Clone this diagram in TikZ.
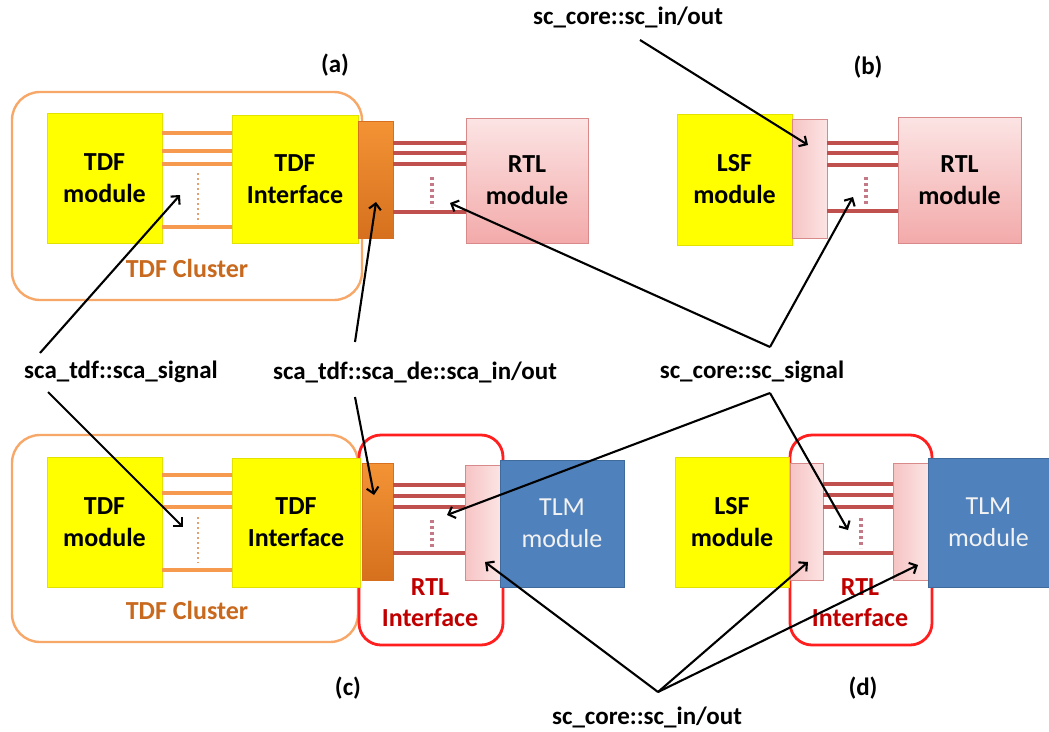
\documentclass[tikz,border=0pt]{standalone}
\usepackage{fontspec}
\setmainfont{Carlito}
\usetikzlibrary{arrows.meta}
\definecolor{tyellow}{HTML}{FFFF00}
\definecolor{tyedge}{HTML}{E2E200}
\definecolor{clorange}{HTML}{F7A868}
\definecolor{lnorange}{HTML}{F59A4E}
\definecolor{dtorange}{HTML}{E0A070}
\definecolor{porttop}{HTML}{F39335}
\definecolor{portbot}{HTML}{D6701E}
\definecolor{pinktop}{HTML}{FCE4E4}
\definecolor{pinkbot}{HTML}{F3AAAA}
\definecolor{pinkedge}{HTML}{D88A8A}
\definecolor{redline}{HTML}{C0504D}
\definecolor{reddot}{HTML}{C47A86}
\definecolor{tlmblue}{HTML}{4F81BD}
\definecolor{tlmedge}{HTML}{3F6A9C}
\definecolor{ifred}{HTML}{FF1F1F}
\definecolor{iftext}{HTML}{C00000}
\definecolor{cltext}{HTML}{C8691E}
\begin{document}
\begin{tikzpicture}[x=1pt,y=-1pt,
  cluster/.style={draw=clorange, line width=2.4pt, rounded corners=28pt, inner sep=0pt},
  rtlif/.style={draw=ifred, line width=2.8pt, rounded corners=22pt, inner sep=0pt},
  ybox/.style={draw=tyedge, fill=tyellow, line width=0.6pt, inner sep=0pt, align=center,
    font=\bfseries\fontsize{26}{32}\selectfont},
  pbox/.style={draw=pinkedge, top color=pinktop, bottom color=pinkbot, line width=0.8pt, inner sep=0pt, align=center,
    font=\bfseries\fontsize{26}{32}\selectfont},
  oport/.style={draw=portbot, top color=porttop, bottom color=portbot, line width=0.6pt, inner sep=0pt},
  pport/.style={draw=pinkedge, left color=pinkbot!70, right color=pinktop, line width=0.8pt, inner sep=0pt},
  tlm/.style={draw=tlmedge, fill=tlmblue, line width=0.8pt, inner sep=0pt, align=center,
    text=white!90!gray, font=\fontsize{26}{32}\selectfont},
  oline/.style={draw=lnorange, line width=3.4pt},
  odots/.style={draw=dtorange, line width=2.8pt, dash pattern=on 2pt off 3pt},
  rline/.style={draw=redline, line width=3.4pt},
  rdots/.style={draw=reddot, line width=4pt, dash pattern=on 3pt off 3pt},
  lbl/.style={font=\bfseries\fontsize{25}{28}\selectfont, inner sep=1pt},
  panel/.style={font=\bfseries\fontsize{25}{28}\selectfont, inner sep=1pt},
  cltxt/.style={font=\bfseries\fontsize{26}{30}\selectfont, text=cltext},
  iftxt/.style={font=\bfseries\fontsize{26}{31}\selectfont, text=iftext, align=center},
  arr/.style={draw=black, line width=2.1pt, -{Straight Barb[length=6pt,width=12pt]}}
]
\useasboundingbox (0,0) rectangle (1049,731);
\fill[white] (0,0) rectangle (1049,731);

% ---------------- panel (a)
\node[cluster, minimum width=350pt, minimum height=208pt] (clA) at (187,196) {};
\node[ybox, minimum width=115pt, minimum height=130pt] (tdfmA) at (104.5,178) {TDF\\module};
\node[ybox, minimum width=126pt, minimum height=128pt] (tdfiA) at (295,179) {TDF\\Interface};
\node[oport, minimum width=35pt, minimum height=117pt] (portA) at (375.5,179.5) {};
\node[pbox, minimum width=122pt, minimum height=125pt] (rtlA) at (527,180.5) {RTL\\module};
\foreach \yy in {133,151,164,227} \draw[oline] (tdfmA.east |- 0,\yy) -- (tdfiA.west |- 0,\yy);
\draw[odots] (198,173) -- (198,223);
\foreach \yy in {143,153,164,212} \draw[rline] (portA.east |- 0,\yy) -- (rtlA.west |- 0,\yy);
\draw[rdots] (432,177) -- (432,207);
\node[cltxt] (clAt) at (187,268) {TDF Cluster};
\node[panel] (pa) at (335,65) {(a)};

% ---------------- panel (b)
\node[ybox, minimum width=115pt, minimum height=131pt] (lsfB) at (734.5,179.5) {LSF\\module};
\node[pport, minimum width=35pt, minimum height=119pt] (portB) at (809.5,178.5) {};
\node[pbox, minimum width=123pt, minimum height=126pt] (rtlB) at (959.5,180) {RTL\\module};
\foreach \yy in {143,153,165,211} \draw[rline] (portB.east |- 0,\yy) -- (rtlB.west |- 0,\yy);
\draw[rdots] (866,177) -- (866,205);
\node[panel] (pb) at (868,67) {(b)};

% ---------------- panel (c)
\node[cluster, minimum width=346pt, minimum height=207pt] (clC) at (185,538.5) {};
\node[rtlif, minimum width=144pt, minimum height=210pt] (ifC) at (431,540) {};
\node[ybox, minimum width=115pt, minimum height=130pt] (tdfmC) at (104.5,522) {TDF\\module};
\node[ybox, minimum width=128pt, minimum height=129pt] (tdfiC) at (296,522.5) {TDF\\Interface};
\node[oport, minimum width=31pt, minimum height=117pt] (portC) at (377.5,521.5) {};
\node[pport, minimum width=35pt, minimum height=115pt] (pportC) at (482.5,522.5) {};
\node[tlm, minimum width=124pt, minimum height=127pt] (tlmC) at (562,523.5) {TLM\\module};
\foreach \yy in {475,493,507,570} \draw[oline] (tdfmC.east |- 0,\yy) -- (tdfiC.west |- 0,\yy);
\draw[odots] (198,517) -- (198,563);
\foreach \yy in {485,496,507,553} \draw[rline] (portC.east |- 0,\yy) -- (pportC.west |- 0,\yy);
\draw[rdots] (432,520) -- (432,548);
\node[cltxt] (clCt) at (187,610) {TDF Cluster};
\node[iftxt] (ifCt) at (430,603) {RTL\\Interface};
\node[panel] (pc) at (348,688) {(c)};

% ---------------- panel (d)
\node[rtlif, minimum width=142pt, minimum height=210pt] (ifD) at (861,540) {};
\node[ybox, minimum width=114pt, minimum height=130pt] (lsfD) at (732,522) {LSF\\module};
\node[pport, minimum width=33pt, minimum height=117pt] (pportD1) at (806.5,521.5) {};
\node[pport, minimum width=35pt, minimum height=117pt] (pportD2) at (910.5,521.5) {};
\node[tlm, minimum width=121pt, minimum height=129pt] (tlmD) at (988.5,522.5) {TLM\\module};
\foreach \yy in {484,495,507,553} \draw[rline] (pportD1.east |- 0,\yy) -- (pportD2.west |- 0,\yy);
\draw[rdots] (861,518) -- (861,548);
\node[iftxt] (ifDt) at (860,603) {RTL\\Interface};
\node[panel] (pd) at (863,688) {(d)};

% ---------------- labels
\node[lbl] (lTop) at (628,17) {sc\_core::sc\_in/out};
\node[lbl] (lSig) at (121,372) {sca\_tdf::sca\_signal};
\node[lbl] (lDe) at (415,372) {sca\_tdf::sca\_de::sca\_in/out};
\node[lbl] (lScSig) at (752,372) {sc\_core::sc\_signal};
\node[lbl] (lBot) at (647,717) {sc\_core::sc\_in/out};

% ---------------- arrow coordinates
\coordinate (sTop) at (640,40);   \coordinate (tTop) at (808,145);
\coordinate (sSigA) at (40,353);  \coordinate (tSigA) at (180,195);
\coordinate (sSigC) at (48,392);  \coordinate (tSigC) at (183,527);
\coordinate (sDeA) at (355,342);  \coordinate (tDeA) at (376,202);
\coordinate (sDeC) at (355,397);  \coordinate (tDeC) at (374,495);
\coordinate (vSsU) at (770,347);  \coordinate (tSsA) at (450,203); \coordinate (tSsB) at (853,197);
\coordinate (vSsD) at (770,393);  \coordinate (tSsC) at (447,515); \coordinate (tSsD) at (848,530);
\coordinate (vBot) at (658,692);  \coordinate (tB1) at (485,562); \coordinate (tB2) at (808,562); \coordinate (tB3) at (918,565);

\draw[arr] (sTop) -- (tTop);
\draw[arr] (sSigA) -- (tSigA);
\draw[arr] (sSigC) -- (tSigC);
\draw[arr] (sDeA) -- (tDeA);
\draw[arr] (sDeC) -- (tDeC);
\draw[arr] (vSsU) -- (tSsA);
\draw[arr] (vSsU) -- (tSsB);
\draw[arr] (vSsD) -- (tSsC);
\draw[arr] (vSsD) -- (tSsD);
\draw[arr] (vBot) -- (tB1);
\draw[arr] (vBot) -- (tB2);
\draw[arr] (vBot) -- (tB3);
\end{tikzpicture}
\end{document}
